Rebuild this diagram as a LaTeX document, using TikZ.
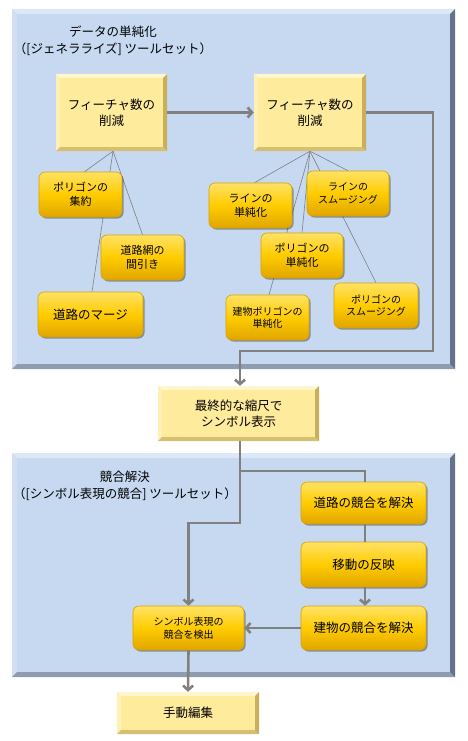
\documentclass[tikz,border=0pt]{standalone}
\usepackage{fontspec}
\setmainfont{Noto Sans CJK JP}
\usetikzlibrary{arrows.meta, shadows, backgrounds}

\definecolor{panelblue}{HTML}{C6D9F1}
\definecolor{paneltop}{HTML}{DDE8F6}
\definecolor{panelleft}{HTML}{D2DFF1}
\definecolor{panelbot}{HTML}{8E9CB0}
\definecolor{panelright}{HTML}{64738A}
\definecolor{featyellow}{HTML}{FFEB9C}
\definecolor{feattop}{HTML}{FFF6CF}
\definecolor{featleft}{HTML}{FFF0B8}
\definecolor{featbot}{HTML}{D6BE72}
\definecolor{featright}{HTML}{C9AE5C}
\definecolor{tasktop}{HTML}{FFE266}
\definecolor{taskmid}{HTML}{FFCC00}
\definecolor{taskbot}{HTML}{E0A500}
\definecolor{taskedge}{HTML}{D9A200}
\definecolor{linegrey}{HTML}{808080}

\newcommand\fsbig{\fontsize{12.5pt}{16pt}\selectfont}
\newcommand\fsmid{\fontsize{11pt}{13.5pt}\selectfont}
\newcommand\fssmall{\fontsize{10pt}{12.5pt}\selectfont}

% bevelled edges: top, left, bottom, right colours and bevel width
\newcommand\bevelpic[5]{%
  \fill[#1] (path picture bounding box.north west) -- (path picture bounding box.north east)
    -- ([xshift=-#5,yshift=-#5]path picture bounding box.north east)
    -- ([xshift=#5,yshift=-#5]path picture bounding box.north west) -- cycle;
  \fill[#2] (path picture bounding box.north west) -- (path picture bounding box.south west)
    -- ([xshift=#5,yshift=#5]path picture bounding box.south west)
    -- ([xshift=#5,yshift=-#5]path picture bounding box.north west) -- cycle;
  \fill[#3] (path picture bounding box.south west) -- (path picture bounding box.south east)
    -- ([xshift=-#5,yshift=#5]path picture bounding box.south east)
    -- ([xshift=#5,yshift=#5]path picture bounding box.south west) -- cycle;
  \fill[#4] (path picture bounding box.north east) -- (path picture bounding box.south east)
    -- ([xshift=-#5,yshift=#5]path picture bounding box.south east)
    -- ([xshift=-#5,yshift=-#5]path picture bounding box.north east) -- cycle;
}

\tikzset{
  featbox/.style={fill=featyellow, inner sep=0pt, align=center, font=\fsbig,
    path picture={\bevelpic{feattop}{featleft}{featbot}{featright}{4pt}}},
  taskbox/.style={rounded corners=6pt, draw=taskedge, line width=0.6pt,
    top color=tasktop, bottom color=taskbot, middle color=taskmid,
    inner sep=0pt, align=center, font=\fsmid,
    drop shadow={shadow xshift=1.5pt, shadow yshift=-1.5pt, opacity=0.35, fill=black}},
  panel/.style={fill=panelblue, inner sep=0pt,
    path picture={\bevelpic{paneltop}{panelleft}{panelbot}{panelright}{5pt}}},
  title/.style={align=center, font=\fontsize{12.5pt}{17pt}\selectfont},
  branch/.style={draw=linegrey, line width=0.6pt},
  flow/.style={draw=linegrey, line width=2.6pt},
  flowarrow/.style={flow, -{Straight Barb[length=4.5pt,width=10pt]}},
}

\begin{document}
\begin{tikzpicture}[x=1pt, y=-1pt]
  \useasboundingbox (0,0) rectangle (467,741);

  % generalization
  \node [featbox, minimum width=111pt, minimum height=77pt] (reduceA) at (111.5,112.5) {フィーチャ数の\\削減};
  \node [featbox, minimum width=112pt, minimum height=77pt] (reduceB) at (310,112.5) {フィーチャ数の\\削減};
  \node [taskbox, minimum width=83pt, minimum height=45pt] (aggregate) at (80.5,194.5) {ポリゴンの\\集約};
  \node [taskbox, minimum width=83pt, minimum height=45pt] (thin) at (142.5,257.5) {道路網の\\間引き};
  \node [taskbox, minimum width=105pt, minimum height=45pt, font=\fsbig] (merge) at (90.5,314.5) {道路のマージ};
  \node [taskbox, minimum width=83pt, minimum height=45pt] (lsimp) at (250.5,205.5) {ラインの\\単純化};
  \node [taskbox, minimum width=82pt, minimum height=45pt, font=\fssmall] (lsmooth) at (348,193.5) {ラインの\\スムージング};
  \node [taskbox, minimum width=82pt, minimum height=45pt] (psimp) at (302,255.5) {ポリゴンの\\単純化};
  \node [taskbox, minimum width=83pt, minimum height=45pt, font=\fssmall] (bsimp) at (267.5,317.5) {建物ポリゴンの\\単純化};
  \node [taskbox, minimum width=84pt, minimum height=45pt, font=\fssmall] (psmooth) at (376,305.5) {ポリゴンの\\スムージング};

  % symbols
  \node [featbox, minimum width=161pt, minimum height=55pt] (symbolize) at (238.5,413.5) {最終的な縮尺で\\シンボル表示};

  % conflicts
  \node [taskbox, minimum width=125pt, minimum height=42pt, font=\fsbig] (road) at (363.5,503) {道路の競合を解決};
  \node [taskbox, minimum width=125pt, minimum height=45pt, font=\fsbig] (move) at (363.5,564.5) {移動の反映};
  \node [taskbox, minimum width=125pt, minimum height=44pt, font=\fsbig] (bldg) at (363.5,628) {建物の競合を解決};
  \node [taskbox, minimum width=111pt, minimum height=44pt, font=\fssmall] (detect) at (188.5,628) {シンボル表現の\\競合を検出};
  \node [featbox, minimum width=142pt, minimum height=42pt] (manual) at (188,713) {手動編集};

  \node [title] (titleA) at (113,41) {データの単純化\\（[ジェネラライズ] ツールセット）};
  \node [title] (titleB) at (125,486) {競合解決\\（[シンボル表現の競合] ツールセット）};

  \begin{scope}[on background layer]
    \node [panel, minimum width=443pt, minimum height=360pt] (panelA) at (233.5,189) {};
    \node [panel, minimum width=443pt, minimum height=224pt] (panelB) at (233.5,565) {};
    \draw [branch] ([xshift=1.5pt]reduceA.south) -- ([xshift=4pt]aggregate.north);
    \draw [branch] ([xshift=1.5pt]reduceA.south) -- (thin.north);
    \draw [branch] ([xshift=1.5pt]reduceA.south) -- ([xshift=1.5pt]merge.north);
    \draw [branch] (reduceB.south) -- ([xshift=4pt]lsimp.north);
    \draw [branch] (reduceB.south) -- (lsmooth.north);
    \draw [branch] (reduceB.south) -- (psimp.north);
    \draw [branch] (reduceB.south) -- ([xshift=1.5pt]bsimp.north);
    \draw [branch] (reduceB.south) -- (psmooth.north);
  \end{scope}

  \coordinate (turn) at (433,351);
  \coordinate (split) at (240,471);
  \coordinate (bend) at (240,523);

  \draw [flowarrow] (reduceA.east) -- (reduceB.west);
  \draw [flowarrow] (reduceB.east) -| (turn) -| ([xshift=1.5pt]symbolize.north);
  \draw [flowarrow] ([xshift=1.5pt]symbolize.south) -- (bend) -| (detect.north);
  \draw [flow] (split) -| ([xshift=1.5pt]road.north);
  \draw [flow] ([xshift=1.5pt]road.south) -- ([xshift=1.5pt]move.north);
  \draw [flowarrow] ([xshift=1.5pt]move.south) -- ([xshift=1.5pt]bldg.north);
  \draw [flowarrow] (bldg.west) -- (detect.east);
  \draw [flowarrow] (detect.south) -- (manual.north);
\end{tikzpicture}
\end{document}
